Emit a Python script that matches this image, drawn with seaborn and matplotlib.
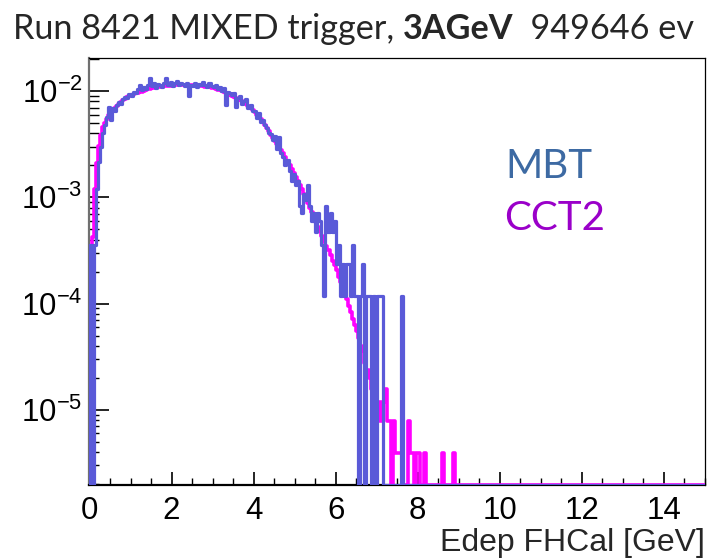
import numpy as np
import pandas as pd
import matplotlib
matplotlib.use("Agg")
import matplotlib.pyplot as plt
import seaborn as sns
from matplotlib.ticker import LogLocator, MultipleLocator, NullFormatter, LogFormatterMathtext

# ---------------- data (ROOT histograms, 0.05 GeV bins from 0 GeV) ----------------
BIN_WIDTH = 0.05
X_RANGE = (0.0, 15.0)
N_MBT = 8400        # entries used for normalisation (1 count = 1/N)
N_CCT2 = 252500

mbt_counts = [
    3, 0, 3, 10, 18, 25, 34, 40, 48, 59,
    45, 58, 55, 62, 66, 63, 70, 74, 72, 78,
    76, 82, 80, 88, 96, 86, 92, 88, 95, 111,
    94, 100, 90, 98, 96, 92, 100, 111, 96, 102,
    93, 99, 104, 95, 100, 97, 93, 101, 75, 96,
    94, 99, 92, 97, 95, 103, 96, 92, 99, 94,
    91, 96, 88, 92, 85, 90, 62, 82, 80, 77,
    81, 60, 72, 76, 64, 68, 70, 58, 62, 55,
    55, 47, 52, 43, 45, 40, 38, 34, 33, 29,
    32, 24, 31, 22, 20, 17, 19, 15, 12, 14,
    11, 12, 7, 6, 9, 8, 11, 7, 5, 6,
    4, 6, 5, 3, 1, 7, 4, 6, 4, 5,
    2, 3, 1, 2, 1, 2, 2, 1, 3, 1,
    1, 0, 1, 2, 0, 1, 1, 0, 1, 0,
    1, 1, 1, 0, 0, 0, 0, 0, 0, 0,
    0, 0, 1,
]

cct2_counts = [
    23, 106, 300, 530, 760, 985, 1160, 1260, 1365, 1490,
    1565, 1670, 1740, 1845, 1920, 1995, 2070, 2120, 2200, 2250,
    2300, 2350, 2400, 2425, 2475, 2500, 2525, 2575, 2625, 2650,
    2675, 2700, 2730, 2750, 2775, 2780, 2800, 2810, 2825, 2835,
    2850, 2855, 2860, 2875, 2880, 2880, 2880, 2885, 2880, 2875,
    2860, 2855, 2850, 2830, 2820, 2805, 2780, 2760, 2730, 2705,
    2675, 2650, 2610, 2575, 2525, 2475, 2425, 2375, 2325, 2275,
    2220, 2170, 2120, 2070, 2020, 1970, 1895, 1820, 1740, 1665,
    1590, 1515, 1440, 1365, 1290, 1210, 1135, 1060, 985, 910,
    860, 810, 760, 705, 655, 605, 555, 505, 465, 430,
    390, 360, 330, 300, 270, 245, 222, 202, 182, 164,
    149, 134, 121, 109, 98, 88, 80, 72, 64, 58,
    52, 45, 40, 35, 32, 28, 24, 21, 18, 16,
    14, 12, 10, 9, 7, 6, 5, 4, 4, 3,
    2, 3, 2, 3, 4, 2, 2, 0, 2, 1,
    1, 1, 1, 0, 0, 2, 1, 1, 0, 1,
    1, 0, 0, 1, 0, 0, 0, 0, 0, 0,
    0, 0, 1, 0, 0, 0, 0, 1, 0, 0,
]

series_names = ["MBT", "CCT2"]
title_parts = ["Run 8421 MIXED trigger, ", "3AGeV", "  949646 ev"]
x_label = "Edep FHCal [GeV]"
x_ticks = [0, 2, 4, 6, 8, 10, 12, 14]

# ---------------- style ----------------
W, H = 708, 560
Y_MIN, Y_MAX = 1.96e-6, 2.07e-2
MBT_COLOR = "#5a5ad8"
CCT2_COLOR = "#ff00ff"

sns.set_style("ticks")
plt.rcParams["font.family"] = ["Liberation Sans", "DejaVu Sans"]
plt.rcParams["mathtext.fontset"] = "custom"
plt.rcParams["mathtext.rm"] = "Liberation Sans"
plt.rcParams["mathtext.it"] = "Liberation Sans"
plt.rcParams["mathtext.default"] = "regular"

fig = plt.figure(figsize=(W / 100, H / 100), dpi=100)
ax = fig.add_axes([89.5 / W, 1 - 485 / H, (705 - 89.5) / W, (485 - 57.5) / H])
ax.set_yscale("log")

n_bins = int(round((X_RANGE[1] - X_RANGE[0]) / BIN_WIDTH))
# one padding bin left of 0 so the first vertical edge is drawn down to the frame
edges = X_RANGE[0] + BIN_WIDTH * np.arange(-1, n_bins + 1)
centers = 0.5 * (edges[:-1] + edges[1:])
bin_list = [float(e) for e in edges]


def to_frame(counts, norm):
    vals = np.zeros(len(centers))
    c = np.asarray(counts, dtype=float) / norm
    vals[1:1 + len(c)] = c
    vals[vals <= 0] = Y_MIN  # ROOT draws empty bins on the bottom frame
    return pd.DataFrame({"E": centers, "w": vals})


df_cct2 = to_frame(cct2_counts, N_CCT2)
df_mbt = to_frame(mbt_counts, N_MBT)

sns.histplot(data=df_cct2, x="E", weights="w", bins=bin_list, element="step",
             fill=False, color=CCT2_COLOR, linewidth=2.6, ax=ax, zorder=3)
sns.histplot(data=df_mbt, x="E", weights="w", bins=bin_list, element="step",
             fill=False, color=MBT_COLOR, linewidth=2.3, ax=ax, zorder=4)

ax.set_xlim(*X_RANGE)
ax.set_ylim(Y_MIN, Y_MAX)
ax.set_xlabel("")
ax.set_ylabel("")

# ticks (ROOT style, inward, left/bottom only)
ax.xaxis.set_major_locator(matplotlib.ticker.FixedLocator(x_ticks))
ax.xaxis.set_minor_locator(MultipleLocator(0.5))
ax.yaxis.set_major_locator(LogLocator(base=10, numticks=20))
ax.yaxis.set_minor_locator(LogLocator(base=10, subs=np.arange(2, 10), numticks=20))
ax.yaxis.set_major_formatter(LogFormatterMathtext())
ax.yaxis.set_minor_formatter(NullFormatter())
ax.tick_params(axis="both", which="both", direction="in", top=False, right=False,
               colors="black", labelsize=22.5)
ax.tick_params(axis="y", which="major", length=14.5, width=1.2, pad=5)
ax.tick_params(axis="y", which="minor", length=7, width=1.0)
ax.tick_params(axis="x", which="major", length=9.5, width=1.2, pad=8)
ax.tick_params(axis="x", which="minor", length=5, width=1.0)

for side in ["top", "right"]:
    ax.spines[side].set_color("black")
    ax.spines[side].set_linewidth(0.9)
ax.spines["left"].set_color("#707070")
ax.spines["left"].set_linewidth(1.6)
ax.spines["bottom"].set_color("black")
ax.spines["bottom"].set_linewidth(1.6)

# x label, right-aligned at the axis end
fig.text(705 / W, 1 - 543 / H, x_label, ha="right", va="center", fontsize=23,
         family=["Liberation Sans", "DejaVu Sans"])

# legend-like coloured labels
fig.text(505 / W, 1 - 166 / H, series_names[0], color="#3d6aa3", fontsize=29,
         ha="left", va="center", family=["Lato", "DejaVu Sans"])
fig.text(504 / W, 1 - 219 / H, series_names[1], color="#9a00c9", fontsize=29,
         ha="left", va="center", family=["Lato", "DejaVu Sans"])

# title with a bold middle part, fitted to the reference width
renderer = fig.canvas.get_renderer()
title_left, title_right, title_y = 13, 697, 1 - 29 / H
fs = 24
weights = ["normal", "bold", "normal"]
for _ in range(2):
    texts = []
    x = title_left
    for part, wt in zip(title_parts, weights):
        t = fig.text(x / W, title_y, part, fontsize=fs, fontweight=wt, ha="left",
                     va="center", family=["Lato", "DejaVu Sans"])
        bb = t.get_window_extent(renderer=renderer)
        x += bb.width
        texts.append(t)
    total = x - title_left
    if _ == 0:
        for t in texts:
            t.remove()
        fs = fs * (title_right - title_left) / total

fig.savefig("out.png", dpi=100)
